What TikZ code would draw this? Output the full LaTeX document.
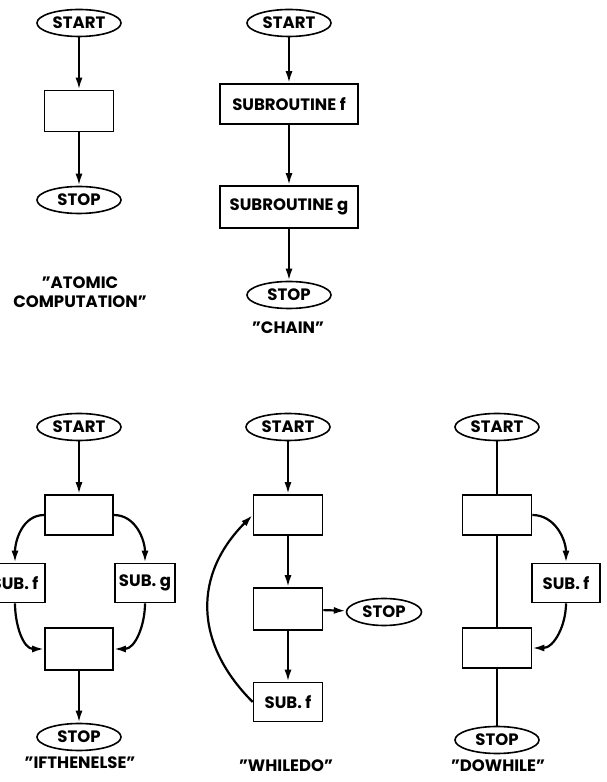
\documentclass[tikz,border=0pt]{standalone}
\usepackage{fontspec}
\setmainfont{Poppins}
\usetikzlibrary{arrows.meta, shapes.geometric}

\tikzset{
    term/.style={shape=ellipse, draw, line width=1.6pt, minimum width=84pt, minimum height=27pt, inner sep=0pt},
    box/.style={shape=rectangle, draw, line width=1.6pt, minimum width=69pt, minimum height=40pt, inner sep=0pt},
    sub/.style={box, minimum width=60pt, minimum height=39pt},
    tag/.style={align=center, inner sep=0pt}
}

\begin{document}
\begin{tikzpicture}[x=1pt, y=1pt, font=\fontsize{16.5}{19}\selectfont\bfseries]
\useasboundingbox (0,0) rectangle (607,782);

\begin{scope}
    % atomic computation
    \node (a) at (79, 759) [term] {START};
    \node (ab) at (79, 671) [box, minimum height=41pt] {};
    \node (astop) at (79, 582) [term] {STOP};
    \node (atext) at (80, 490) [tag] {"ATOMIC\\COMPUTATION"};

    % chain
    \node (c) at (289, 759) [term] {START};
    \node (cf) at (289, 678) [box, minimum width=138pt] {SUBROUTINE f};
    \node (cg) at (289, 575) [box, minimum width=138pt, minimum height=42pt] {SUBROUTINE g};
    \node (cstop) at (289, 487) [term] {STOP};
    \node (ctext) at (288, 454) [tag] {"CHAIN"};

    % if then else
    \node (i) at (79, 355) [term] {START};
    \node (ib) at (79, 267) [box, minimum width=68pt] {};
    \node (if) at (15, 199) [sub] {SUB. f};
    \node (ig) at (145, 199) [sub] {SUB. g};
    \node (im) at (79, 133) [box, minimum width=68pt, minimum height=42pt] {};
    \node (istop) at (79, 45) [term] {STOP};
    \node (itext) at (80, 19) [tag] {"IFTHENELSE"};

    % while do
    \node (w) at (288, 355) [term] {START};
    \node (wb) at (288, 267) [box] {};
    \node (wc) at (288, 173) [box, minimum height=42pt] {};
    \node (wstop) at (384, 170) [term, minimum width=75pt] {STOP};
    \node (wf) at (288, 80) [box, minimum height=39pt] {SUB. f};
    \node (wtext) at (286, 16) [tag] {"WHILEDO"};

    % do while
    \node (d) at (497, 355) [term] {START};
    \node (db) at (497, 267) [box] {};
    \node (df) at (566, 199) [sub, minimum width=68pt] {SUB. f};
    \node (dc) at (497, 134) [box] {};
    \node (dstop) at (497, 42) [term] {STOP};
    \node (dtext) at (498, 16) [tag] {"DOWHILE"};
\end{scope}

\begin{scope}[>={Latex[length=12pt,width=7pt]},
              every edge/.style={draw, line width=2.2pt}]

    \path [->] (a) edge (ab);
    \path [->] (ab) edge (astop);

    \path [->] (c) edge (cf);
    \path [->] (cf) edge (cg);
    \path [->] (cg) edge (cstop);

    \path [->] (i) edge (ib);
    \path [->] (ib.west) edge [out=180, in=90] (if.north);
    \path [->] (ib.east) edge [out=0, in=90] (ig.north);
    \path [->] (if.south) edge [out=-90, in=180] (im.west);
    \path [->] (ig.south) edge [out=-90, in=0] (im.east);
    \path [->] (im) edge (istop);

    \path [->] (w) edge (wb);
    \path [->] (wb) edge (wc);
    \path [->] (wc) edge (wstop);
    \path [->] (wc) edge (wf);
    \path [->] (wf.west) edge [out=135, in=225, looseness=1.15] (wb.west);

    \path [-] (d) edge (db);
    \path [-] (db) edge (dc);
    \path [-] (dc) edge (dstop);
    \path [->] (db.east) edge [out=0, in=90] (df.north);
    \path [->] (df.south) edge [out=-90, in=0] (dc.east);
\end{scope}
\end{tikzpicture}
\end{document}
